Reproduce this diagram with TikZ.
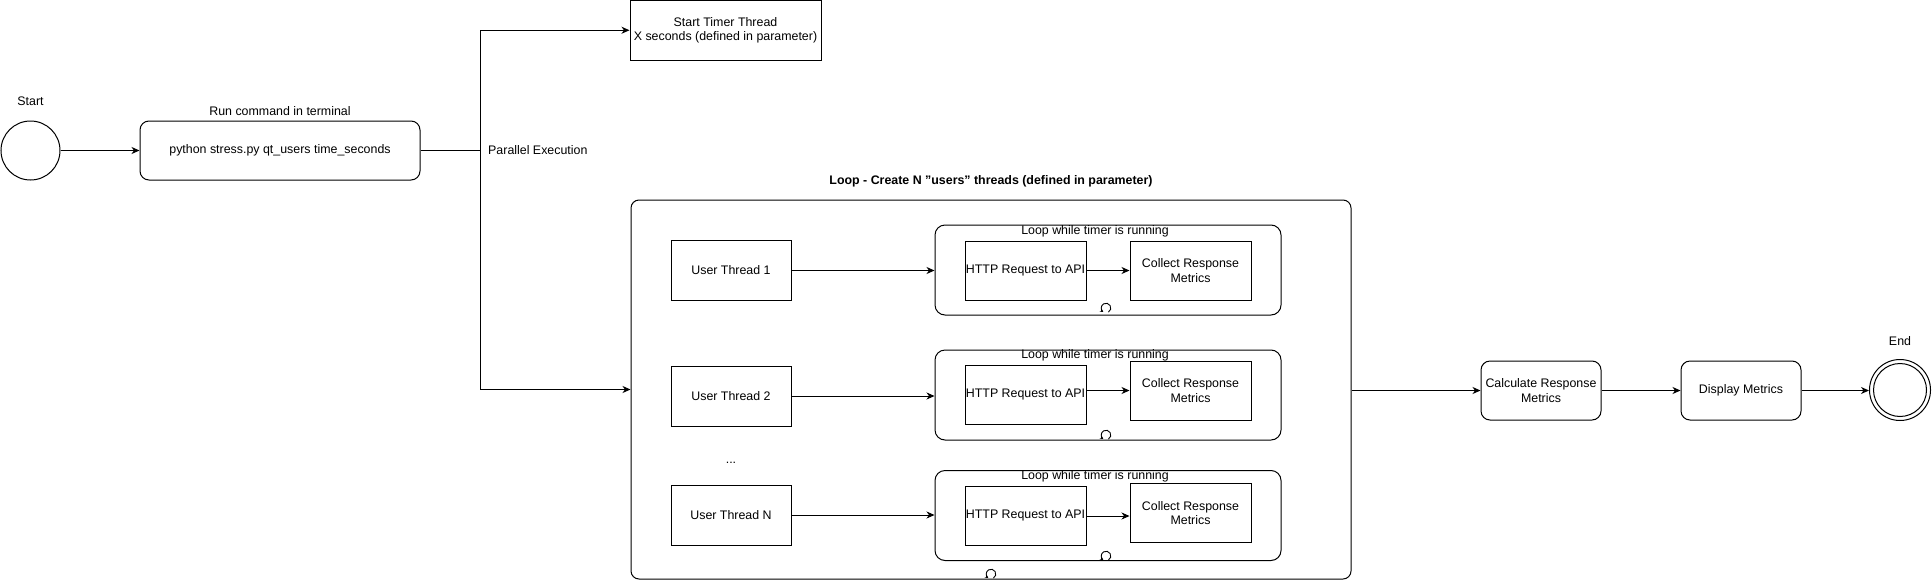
\documentclass[tikz,border=0pt]{standalone}
\usepackage{fontspec}
\setmainfont{Liberation Sans}
\usetikzlibrary{arrows.meta,calc}
\tikzset{
  loopicon/.pic={\draw[line width=0.9pt,-{Stealth[length=3.2pt,width=3.6pt]}] (-60:4.8pt) arc[start angle=-60,end angle=235,radius=4.8pt];}
}
\begin{document}
\begin{tikzpicture}[x=1pt,y=-1pt,
  every node/.style={font=\fontsize{12.4}{14.5}\selectfont},
  box/.style={draw,line width=1pt,inner sep=0pt,align=center},
  rbox/.style={box,rounded corners=9pt},
  arr/.style={line width=1pt,-{Stealth[length=8pt,width=7pt,inset=2.5pt]}},
  ln/.style={line width=1pt},
  txt/.style={inner sep=0pt,align=center},
  ring/.style={circle,draw,line width=1pt,inner sep=0pt}
]
\useasboundingbox (0,0) rectangle (1932,581);

% start / end
\node[ring,minimum size=59pt] (start) at (30.5,150.5) {};
\node[txt] (startlbl) at (30.5,101) {Start};
\node[ring,minimum size=61pt] (end) at (1900,390) {};
\node[ring,minimum size=53pt] (endin) at (1900,390) {};
\node[txt] (endlbl) at (1900,341) {End};

% run command
\node[rbox,minimum width=280pt,minimum height=59pt] (run) at (280,150.5) {python stress.py qt\_users time\_seconds};
\node[txt] (runlbl) at (280,111) {Run command in terminal};

% timer
\node[box,minimum width=191pt,minimum height=59.5pt] (timer) at (725.5,30.25) {Start Timer Thread\\X seconds (defined in parameter)};

% parallel label
\coordinate (jn) at (480,150.5);
\node[txt,anchor=west] (pe) at (488,150.5) {Parallel Execution};

% container
\node[box,rounded corners=8pt,minimum width=720pt,minimum height=379pt] (cont) at (991,389.5) {};
\node[txt,font=\fontsize{12.4}{14.5}\selectfont\bfseries] (contlbl) at (991,181) {Loop - Create N "users" threads (defined in parameter)};

% user threads
\node[box,minimum width=120pt,minimum height=60pt] (u1) at (731,270.5) {User Thread 1};
\node[box,minimum width=120pt,minimum height=60pt] (u2) at (731,396) {User Thread 2};
\node[box,minimum width=120pt,minimum height=60pt] (u3) at (731,515) {User Thread N};
\node[txt] (dots) at (731,463) {...};

% inner loops
\foreach \i/\y/\ly/\hy/\cy/\iy in {1/270/231/270.5/270.5/308, 2/395/355/395/390.5/435, 3/515.5/476/516/513/556}{
  \node[box,rounded corners=10pt,minimum width=346pt,minimum height=90pt] (l\i) at (1108,\y) {};
  \node[txt] (ll\i) at (1095,\ly) {Loop while timer is running};
  \node[box,minimum width=121pt,minimum height=59pt] (h\i) at (1025.5,\hy) {HTTP Request to API};
  \node[box,minimum width=121pt,minimum height=59pt] (c\i) at (1190.5,\cy) {Collect Response\\Metrics};
  \pic at (1106,\iy) {loopicon};
}
\pic at (991,574) {loopicon};

% calc / display
\node[rbox,minimum width=120pt,minimum height=59pt] (calc) at (1541,390.5) {Calculate Response\\Metrics};
\node[rbox,minimum width=120pt,minimum height=59pt] (disp) at (1741,390.5) {Display Metrics};

% connectors
\draw[arr] (start) -- (run);
\draw[ln] (run.east) -- (jn);
\draw[arr] (jn) |- (timer.west);
\draw[arr] (jn) |- (cont.west);
\draw[arr] (u1.east) -- (u1.east -| l1.west);
\draw[arr] (u2.east) -- (u2.east -| l2.west);
\draw[arr] (u3.east) -- (u3.east -| l3.west);
\draw[arr] (h1.east) -- (h1.east -| c1.west);
\draw[arr] (h2.east |- c2.west) -- (c2.west);
\draw[arr] (h3.east) -- (h3.east -| c3.west);
\draw[arr] (cont.east |- calc.west) -- (calc.west);
\draw[arr] (calc) -- (disp);
\draw[arr] (disp.east) -- (end.west |- disp.east);
\end{tikzpicture}
\end{document}
